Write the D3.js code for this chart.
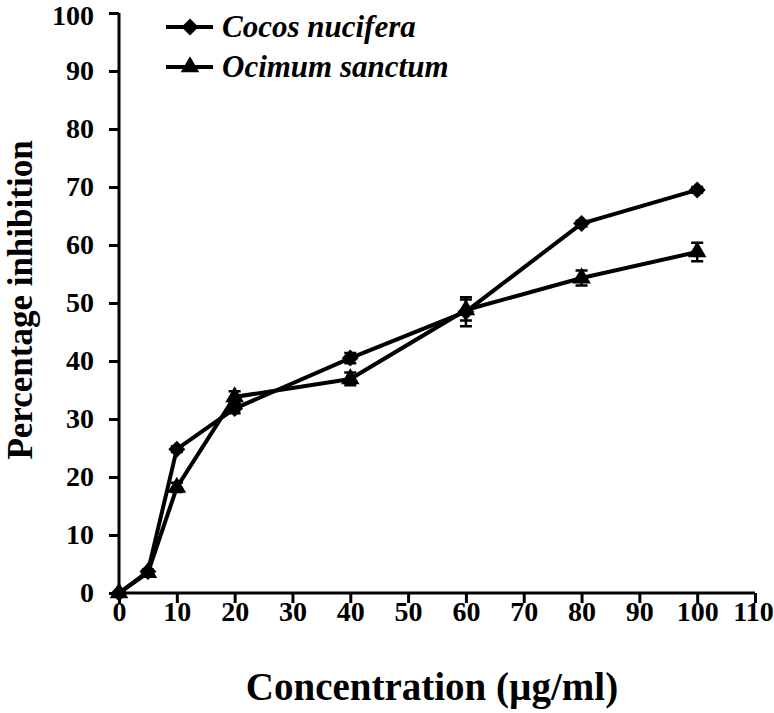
<!DOCTYPE html>
<html><head><meta charset="utf-8">
<script src="https://cdn.jsdelivr.net/npm/d3@7"></script>
<style>body{margin:0;background:#fff}</style>
</head><body>
<svg id="c" width="774" height="713"></svg>
<script>
const concentrations = [0, 5, 10, 20, 40, 60, 80, 100];
const cocosValues = [0, 3.7, 24.8, 31.8, 40.5, 48.5, 63.7, 69.5];
const cocosErrors = [0, 0.3, 0.5, 0.8, 0.9, 2.5, 0.5, 0.5];
const ocimumValues = [0, 3.5, 18.2, 33.8, 36.9, 48.8, 54.3, 58.8];
const ocimumErrors = [0, 0.5, 0.8, 1.0, 1.1, 1.8, 1.3, 1.6];
const seriesNames = ["Cocos nucifera", "Ocimum sanctum"];
const xTicks = [0,10,20,30,40,50,60,70,80,90,100,110];
const yTicks = [0,10,20,30,40,50,60,70,80,90,100];

const svg = d3.select("#c");
const font = "'Times New Roman','Liberation Serif',serif";
const x = d3.scaleLinear().domain([0,110]).range([119,755]);
const y = d3.scaleLinear().domain([0,100]).range([593,13]);

const xAxis = d3.axisBottom(x).tickValues(xTicks).tickSize(10).tickPadding(-2).tickSizeOuter(0);
const yAxis = d3.axisLeft(y).tickValues(yTicks).tickSize(10).tickPadding(15).tickSizeOuter(0);

const gx = svg.append("g").attr("transform",`translate(0,${y(0)})`).call(xAxis);
const gy = svg.append("g").attr("transform",`translate(${x(0)},0)`).call(yAxis);
[gx,gy].forEach(g=>{
  g.select(".domain").attr("stroke","#000").attr("stroke-width",3);
  g.selectAll(".tick line").attr("stroke","#000").attr("stroke-width",3);
  g.selectAll(".tick text").attr("fill","#000").style("font-family",font)
   .style("font-weight","bold").style("font-size","28px");
});
gy.selectAll(".tick text").filter(d=>d===100).attr("dy","0.42em");
gx.selectAll(".tick text").filter(d=>d===110).attr("dx",-2);
gy.select(".domain").attr("d",`M0,${y(100)}V${y(0)}`);
gx.select(".domain").attr("d",`M${x(0)},0H${x(110)}`);

svg.append("text").attr("x",432).attr("y",700).attr("text-anchor","middle")
  .style("font-family",font).style("font-weight","bold").style("font-size","39px")
  .text("Concentration (µg/ml)");
svg.append("text").attr("transform","translate(32,300) rotate(-90)").attr("text-anchor","middle")
  .style("font-family",font).style("font-weight","bold").style("font-size","35px")
  .text("Percentage inhibition");

const series = [
  {vals: cocosValues, errs: cocosErrors, sym: d3.symbolSquare, size: 144, rot: 45},
  {vals: ocimumValues, errs: ocimumErrors, sym: d3.symbolTriangle, size: 150, rot: 0}
];
const line = d3.line().x(d=>x(d[0])).y(d=>y(d[1]));
series.forEach(s=>{
  const pts = concentrations.map((c,i)=>[c,s.vals[i],s.errs[i]]);
  const g = svg.append("g");
  pts.forEach(p=>{
    if(p[2]>0){
      g.append("path").attr("d",`M${x(p[0])},${y(p[1]-p[2])}V${y(p[1]+p[2])}M${x(p[0])-6},${y(p[1]-p[2])}h12M${x(p[0])-6},${y(p[1]+p[2])}h12`)
       .attr("stroke","#000").attr("stroke-width",2.5).attr("fill","none");
    }
  });
  g.append("path").datum(pts).attr("d",line).attr("fill","none").attr("stroke","#000").attr("stroke-width",4);
  g.selectAll(".m").data(pts).enter().append("path")
    .attr("transform",d=>`translate(${x(d[0])},${y(d[1])}) rotate(${s.rot})`)
    .attr("d",d3.symbol().type(s.sym).size(s.size)).attr("fill","#000");
});

const legY = [27, 67];
seriesNames.forEach((n,i)=>{
  const g = svg.append("g");
  g.append("line").attr("x1",166).attr("x2",213).attr("y1",legY[i]).attr("y2",legY[i]).attr("stroke","#000").attr("stroke-width",4);
  g.append("path").attr("transform",`translate(190,${legY[i]}) rotate(${series[i].rot})`).attr("d",d3.symbol().type(series[i].sym).size(series[i].size)).attr("fill","#000");
  g.append("text").attr("x",222).attr("y",legY[i]+10).style("font-family",font).style("font-weight","bold")
    .style("font-style","italic").style("font-size","31px").text(n);
});
</script>
</body></html>
